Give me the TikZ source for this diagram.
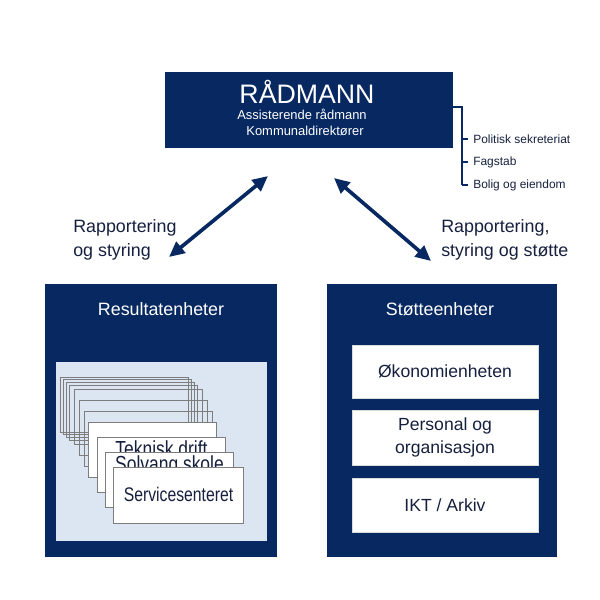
\documentclass[tikz,border=0pt]{standalone}
\usepackage{fontspec}
\setmainfont{Liberation Sans}
\newfontfamily\narrowsans[FakeStretch=0.8]{Liberation Sans}
\usetikzlibrary{arrows.meta,positioning}
\definecolor{navy}{RGB}{8,40,98}
\definecolor{panelblue}{RGB}{220,230,243}
\definecolor{cardgray}{RGB}{125,125,125}
\definecolor{inktext}{RGB}{22,32,62}
\tikzset{
  unitbox/.style={fill=navy,draw=none,inner sep=0pt},
  whitebox/.style={fill=white,draw=black!15,line width=0.6pt,minimum width=4.65cm,inner sep=0pt,
    text=inktext,font=\fontsize{12.5}{16.3}\selectfont,align=center},
  backcard/.style={draw=cardgray,line width=0.7pt,minimum width=3.2cm,minimum height=1.375cm,
    anchor=north west,inner sep=0pt},
  frontcard/.style={backcard,fill=white},
  cardtext/.style={font=\narrowsans\fontsize{14}{14}\selectfont,text=inktext,inner sep=0pt},
  hiddentext/.style={cardtext,font=\narrowsans\fontsize{15.5}{15.5}\selectfont,anchor=north},
  toptext/.style={text=white,inner sep=0pt,font=\fontsize{9.2}{11}\selectfont},
  boxtitle/.style={text=white,font=\fontsize{12.7}{15}\selectfont},
  flowlabel/.style={text=inktext,font=\fontsize{12.7}{17}\selectfont,align=left,anchor=west,inner sep=0pt},
  staffitem/.style={text=inktext,font=\fontsize{8.5}{10}\selectfont,anchor=west,inner sep=0pt},
  bracket/.style={navy,line width=0.8pt},
  twoway/.style={navy,line width=2.6pt,{Triangle[length=11pt,width=10pt]}-{Triangle[length=11pt,width=10pt]}},
}
\begin{document}
\begin{tikzpicture}[x=0.025cm,y=-0.025cm]
\useasboundingbox (0,0) rectangle (600,600);
% top
\node[unitbox,minimum width=7.2cm,minimum height=1.9cm] (radmann) at (309,110) {};
\node[toptext,font=\fontsize{19}{19}\selectfont] (radtitle) at (307,92) {RÅDMANN};
\node[toptext] (assist) at (302,114) {Assisterende rådmann};
\node[toptext] (direk) at (305,131) {Kommunaldirektører};
% staff
\coordinate (brtop) at (462,107);
\coordinate (brbot) at (462,185);
\node[staffitem] (polsek) at (473,139) {Politisk sekreteriat};
\node[staffitem] (fagstab) at (473,162) {Fagstab};
\node[staffitem] (bolig) at (473,185) {Bolig og eiendom};
\draw[bracket] (radmann.east |- brtop) -- (brtop) -- (brbot);
\foreach \item in {polsek,fagstab,bolig}
  \draw[bracket] (brtop |- \item.west) -- ([xshift=-3.5pt]\item.west);
% arrows
\coordinate (leftlow) at (169,257);
\coordinate (lefthigh) at (268,176);
\coordinate (righthigh) at (334,178);
\coordinate (rightlow) at (431,261);
\draw[twoway] (leftlow) -- (lefthigh);
\draw[twoway] (righthigh) -- (rightlow);
\node[flowlabel] (repleft) at (73,240) {Rapportering\\og styring};
\node[flowlabel] (repright) at (441,240) {Rapportering,\\styring og støtte};
% left unit
\node[unitbox,minimum width=5.8cm,minimum height=6.825cm] (result) at (161,420.5) {};
\node[boxtitle] (resulttitle) at (161,309) {Resultatenheter};
\node[fill=panelblue,minimum width=5.275cm,minimum height=4.475cm,inner sep=0pt] (panel) at (161.5,451.5) {};
\foreach \cx/\cy [count=\n] in {60/377,63/379,66/382,69/385,74/389,79/400,84/411}
  \node[backcard] (back\n) at (\cx,\cy) {};
\node[frontcard] (cardA) at (88,422) {};
\node[frontcard] (cardB) at (97,437) {};
\node[hiddentext] (teknisk) at ([yshift=-2.6pt]cardB.north) {Teknisk drift};
\node[frontcard] (cardC) at (105,452) {};
\node[hiddentext] (solvang) at ([yshift=-2.6pt]cardC.north) {Solvang skole};
\node[frontcard,minimum width=3.25cm,minimum height=1.4cm] (cardD) at (113,467) {};
\node[cardtext] (service) at ([yshift=1pt]cardD.center) {Servicesenteret};
% right unit
\node[unitbox,minimum width=5.75cm,minimum height=6.825cm] (stotte) at (442,420.5) {};
\node[boxtitle] (stottetitle) at (440,309) {Støtteenheter};
\node[whitebox,minimum height=1.325cm] (okonomi) at (445,371.5) {Økonomienheten};
\node[whitebox,minimum height=1.375cm] (personal) at (445,437.5) {Personal og\\organisasjon};
\node[whitebox,minimum height=1.35cm] (ikt) at (445,505) {IKT / Arkiv};
\end{tikzpicture}
\end{document}
